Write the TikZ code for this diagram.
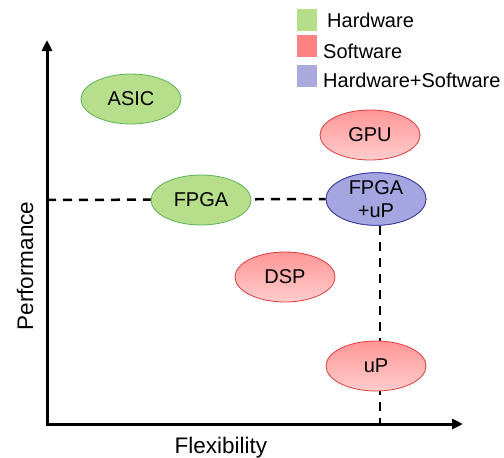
\documentclass[tikz,border=0pt]{standalone}
\usepackage{fontspec}
\setmainfont{Liberation Sans}
\usetikzlibrary{arrows.meta,shapes.geometric}

\definecolor{hwfill}{RGB}{183,222,138}
\definecolor{hwdraw}{RGB}{88,180,88}
\definecolor{swtop}{RGB}{255,150,150}
\definecolor{swbot}{RGB}{255,205,205}
\definecolor{swdraw}{RGB}{222,60,60}
\definecolor{hsfill}{RGB}{165,165,225}
\definecolor{hsdraw}{RGB}{60,60,160}
\definecolor{keyhw}{RGB}{182,221,137}
\definecolor{keysw}{RGB}{255,130,130}
\definecolor{keyhs}{RGB}{170,170,222}

\tikzset{
  blob/.style={ellipse, minimum width=100pt, minimum height=50pt, inner sep=0pt,
               font=\fontsize{20}{23}\selectfont, align=center, line width=0.8pt},
  hwblob/.style={blob, fill=hwfill, draw=hwdraw},
  swblob/.style={blob, top color=swtop, bottom color=swbot, draw=swdraw},
  hsblob/.style={blob, fill=hsfill, draw=hsdraw},
  axisline/.style={line width=3pt, {Triangle[length=11pt,width=10pt]}-{Triangle[length=11pt,width=10pt]}},
  guide/.style={line width=2.5pt, dash pattern=on 9pt off 7pt},
  keybox/.style={minimum width=20pt, minimum height=22pt, inner sep=0pt},
  keytext/.style={anchor=base west, inner sep=0pt, font=\fontsize{20}{24}\selectfont},
  axislabel/.style={inner sep=0pt, font=\fontsize{22.5}{26}\selectfont}
}

\begin{document}
\begin{tikzpicture}[x=1pt, y=-1pt]
  \useasboundingbox (0,0) rectangle (504,458);

  % axes
  \coordinate (origin) at (47,424);
  \coordinate (ytip) at (47,40);
  \coordinate (xtip) at (463,424);
  \draw[axisline] (ytip) -- (origin) -- (xtip);

  \node[axislabel, rotate=90] (perf) at (25,266) {Performance};
  \node[axislabel, anchor=base] (flex) at (221,453) {Flexibility};

  % guide lines through FPGA+uP
  \coordinate (hfoot) at (47,200);
  \coordinate (vfoot) at (380,424);
  \node[hsblob] (fpgaup) at (376,199) {FPGA\\+uP};
  \draw[guide] (hfoot) -- (fpgaup.west);
  \draw[guide] (fpgaup.south -| vfoot) -- (vfoot);

  % devices
  \node[hwblob] (asic) at (131,99) {ASIC};
  \node[hwblob] (fpga) at (201,200) {FPGA};
  \node[swblob] (gpu) at (370,135) {GPU};
  \node[swblob] (dsp) at (285,277) {DSP};
  \node[swblob] (up) at (376,366) {uP};
  \node[hsblob] at (fpgaup) {FPGA\\+uP};

  % legend
  \node[keybox, fill=keyhw] (hwkey) at (307,20) {};
  \node[keybox, fill=keysw] (swkey) at (307,46) {};
  \node[keybox, fill=keyhs] (hskey) at (307,76) {};
  \node[keytext] (hwlbl) at (327,27) {Hardware};
  \node[keytext] (swlbl) at (323,58) {Software};
  \node[keytext] (hslbl) at (323,87) {Hardware+Software};
\end{tikzpicture}
\end{document}
